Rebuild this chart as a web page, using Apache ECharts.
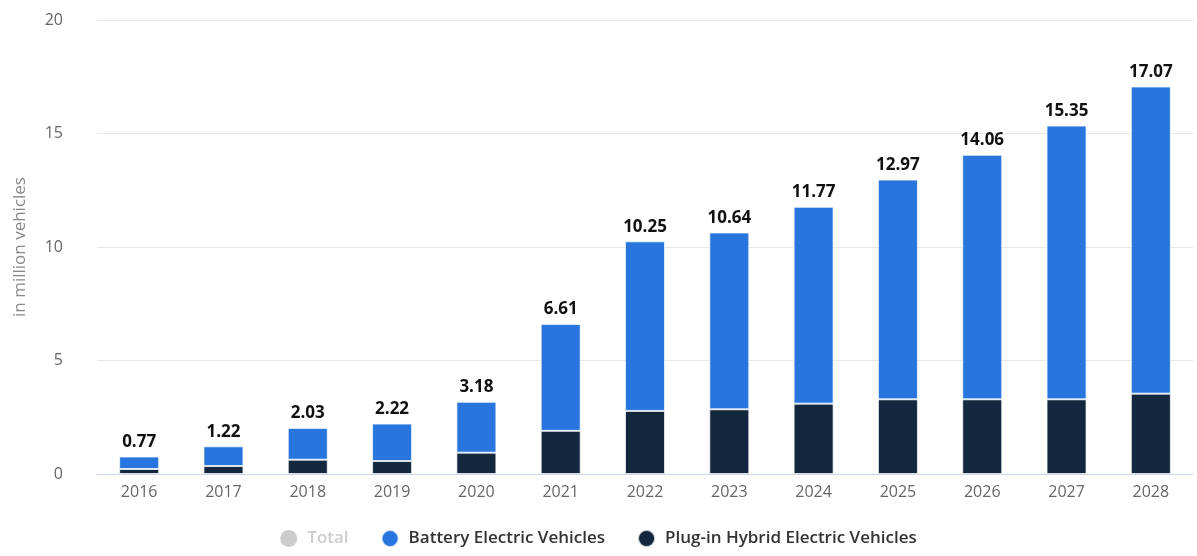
<!DOCTYPE html>
<html>
<head>
<meta charset="utf-8">
<script src="https://cdn.jsdelivr.net/npm/echarts@6/dist/echarts.min.js"></script>
<style>
  html, body { margin: 0; padding: 0; background: #fff; }
  #chart { width: 1197px; height: 556px; }
</style>
</head>
<body>
<div id="chart"></div>
<script>
const years = ['2016', '2017', '2018', '2019', '2020', '2021', '2022', '2023', '2024', '2025', '2026', '2027', '2028'];
const totals = [0.77, 1.22, 2.03, 2.22, 3.18, 6.61, 10.25, 10.64, 11.77, 12.97, 14.06, 15.35, 17.07];
const bev = [0.55, 0.87, 1.40, 1.65, 2.24, 4.71, 7.47, 7.79, 8.67, 9.68, 10.77, 12.06, 13.53];
const phev = [0.22, 0.35, 0.63, 0.57, 0.94, 1.90, 2.78, 2.85, 3.10, 3.29, 3.29, 3.29, 3.54];

const fontFamily = '"Open Sans", "Noto Sans", sans-serif';

let chart = echarts.init(document.getElementById('chart'));

chart.setOption({
  textStyle: { fontFamily: fontFamily },
  animation: false,
  legend: {
    bottom: 3,
    left: 'center',
    icon: 'circle',
    itemWidth: 17,
    itemHeight: 17,
    itemGap: 32,
    inactiveColor: '#cccccc',
    textStyle: { fontSize: 17, color: '#333', fontWeight: 600, fontFamily: fontFamily, padding: [0, 0, 0, 5] },
    data: ['Total', 'Battery Electric Vehicles', 'Plug-in Hybrid Electric Vehicles'],
    selected: { 'Total': false }
  },
  grid: {
    left: 97,
    right: 4,
    top: 20,
    bottom: 82
  },
  xAxis: {
    type: 'category',
    data: years,
    axisLine: { lineStyle: { color: '#ccd6eb' } },
    axisTick: { alignWithLabel: true, length: 8, lineStyle: { color: '#ccd6eb' } },
    axisLabel: { color: '#666', fontSize: 16, margin: 10 }
  },
  yAxis: {
    type: 'value',
    min: 0,
    max: 20,
    interval: 5,
    name: 'in million vehicles',
    nameLocation: 'middle',
    nameGap: 68,
    nameTextStyle: { color: '#888', fontSize: 17 },
    axisLine: { show: false },
    axisTick: { show: false },
    axisLabel: { color: '#666', fontSize: 16, margin: 34 },
    splitLine: { lineStyle: { color: '#e6e6e6' } }
  },
  series: [
    {
      name: 'Total',
      type: 'bar',
      stack: 'ev',
      itemStyle: { color: '#cccccc' },
      data: []
    },
    {
      name: 'Plug-in Hybrid Electric Vehicles',
      type: 'bar',
      stack: 'ev',
      barWidth: 40,
      itemStyle: { color: '#13283e', borderColor: 'rgba(255,255,255,0.7)', borderWidth: 1 },
      data: phev
    },
    {
      name: 'Battery Electric Vehicles',
      type: 'bar',
      stack: 'ev',
      barWidth: 40,
      itemStyle: { color: '#2876dd', borderColor: 'rgba(255,255,255,0.7)', borderWidth: 1 },
      label: {
        show: true,
        position: 'top',
        distance: 6,
        color: '#111',
        fontSize: 17,
        fontWeight: 'bold',
        formatter: p => totals[p.dataIndex].toFixed(2)
      },
      data: bev
    }
  ]
});
</script>
</body>
</html>
